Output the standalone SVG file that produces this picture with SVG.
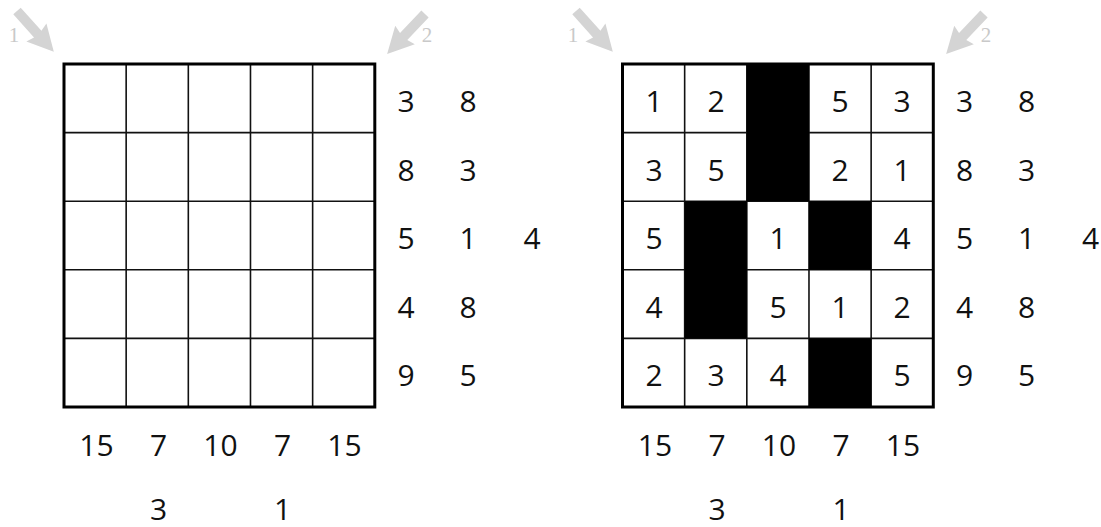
<svg xmlns="http://www.w3.org/2000/svg" xmlns:xlink="http://www.w3.org/1999/xlink" width="1101" height="527" viewBox="0 0 1101 527">
<style>
.n{font-family:"Open Sans","Liberation Sans",sans-serif;font-size:30px;fill:#111;text-anchor:middle}
.lbl{font-family:"Liberation Serif",serif;font-size:21px;fill:#c9c9c9;text-anchor:middle}
.inner{stroke:#111;stroke-width:1.6;fill:none}
.outer{stroke:#000;stroke-width:3;fill:none}
.arw{fill:#d4d4d4}
</style>
<defs>
<polygon id="arrow" points="0,-5 31,-5 29,-13.5 55,0 29,13.5 31,5 0,5"/>
<g id="grid">
<rect x="0" y="0" width="310.8" height="343" fill="#fff"/>
<path class="inner" d="M62.16,0V343M124.32,0V343M186.48,0V343M248.64,0V343M0,68.6H310.8M0,137.2H310.8M0,205.8H310.8M0,274.4H310.8"/>
</g>
</defs>

<g id="left-puzzle">
<g id="left-arrows">
<use xlink:href="#arrow" class="arw" transform="translate(17,11) rotate(48)"/>
<text class="lbl" x="14" y="42">1</text>
<use xlink:href="#arrow" class="arw" transform="translate(425,14) rotate(133.5)"/>
<text class="lbl" x="427" y="42">2</text>
</g>
<g id="left-grid" transform="translate(64,64)">
<use xlink:href="#grid"/>
<rect class="outer" x="0" y="0" width="310.8" height="343"/>
</g>
<g id="left-row-clues">
<text class="n" x="406" y="112">3</text><text class="n" x="468" y="112">8</text>
<text class="n" x="406" y="181">8</text><text class="n" x="468" y="181">3</text>
<text class="n" x="406" y="249">5</text><text class="n" x="468" y="249">1</text><text class="n" x="532" y="249">4</text>
<text class="n" x="406" y="318">4</text><text class="n" x="468" y="318">8</text>
<text class="n" x="406" y="386">9</text><text class="n" x="468" y="386">5</text>
</g>
<g id="left-col-clues">
<text class="n" x="96.5" y="456">15</text>
<text class="n" x="158.5" y="456">7</text>
<text class="n" x="220.5" y="456">10</text>
<text class="n" x="282.5" y="456">7</text>
<text class="n" x="344.5" y="456">15</text>
<text class="n" x="158.5" y="520">3</text>
<text class="n" x="282.5" y="520">1</text>
</g>
</g>

<g id="right-puzzle">
<g id="right-arrows">
<use xlink:href="#arrow" class="arw" transform="translate(576,11) rotate(48)"/>
<text class="lbl" x="573" y="42">1</text>
<use xlink:href="#arrow" class="arw" transform="translate(984,14) rotate(133.5)"/>
<text class="lbl" x="986" y="42">2</text>
</g>
<g id="right-grid" transform="translate(622.5,64)">
<use xlink:href="#grid"/>
<rect x="124.32" y="0" width="62.16" height="137.2" fill="#000"/>
<rect x="62.16" y="137.2" width="62.16" height="137.2" fill="#000"/>
<rect x="186.48" y="137.2" width="62.16" height="68.6" fill="#000"/>
<rect x="186.48" y="274.4" width="62.16" height="68.6" fill="#000"/>
<rect class="outer" x="0" y="0" width="310.8" height="343"/>
</g>
<g id="right-cells">
<text class="n" x="654" y="112">1</text><text class="n" x="716" y="112">2</text><text class="n" x="840" y="112">5</text><text class="n" x="902" y="112">3</text>
<text class="n" x="654" y="181">3</text><text class="n" x="716" y="181">5</text><text class="n" x="840" y="181">2</text><text class="n" x="902" y="181">1</text>
<text class="n" x="654" y="249">5</text><text class="n" x="778" y="249">1</text><text class="n" x="902" y="249">4</text>
<text class="n" x="654" y="318">4</text><text class="n" x="778" y="318">5</text><text class="n" x="840" y="318">1</text><text class="n" x="902" y="318">2</text>
<text class="n" x="654" y="386">2</text><text class="n" x="716" y="386">3</text><text class="n" x="778" y="386">4</text><text class="n" x="902" y="386">5</text>
</g>
<g id="right-row-clues">
<text class="n" x="964.5" y="112">3</text><text class="n" x="1026.5" y="112">8</text>
<text class="n" x="964.5" y="181">8</text><text class="n" x="1026.5" y="181">3</text>
<text class="n" x="964.5" y="249">5</text><text class="n" x="1026.5" y="249">1</text><text class="n" x="1090.5" y="249">4</text>
<text class="n" x="964.5" y="318">4</text><text class="n" x="1026.5" y="318">8</text>
<text class="n" x="964.5" y="386">9</text><text class="n" x="1026.5" y="386">5</text>
</g>
<g id="right-col-clues">
<text class="n" x="655" y="456">15</text>
<text class="n" x="717" y="456">7</text>
<text class="n" x="779" y="456">10</text>
<text class="n" x="841" y="456">7</text>
<text class="n" x="903" y="456">15</text>
<text class="n" x="717" y="520">3</text>
<text class="n" x="841" y="520">1</text>
</g>
</g>
</svg>
